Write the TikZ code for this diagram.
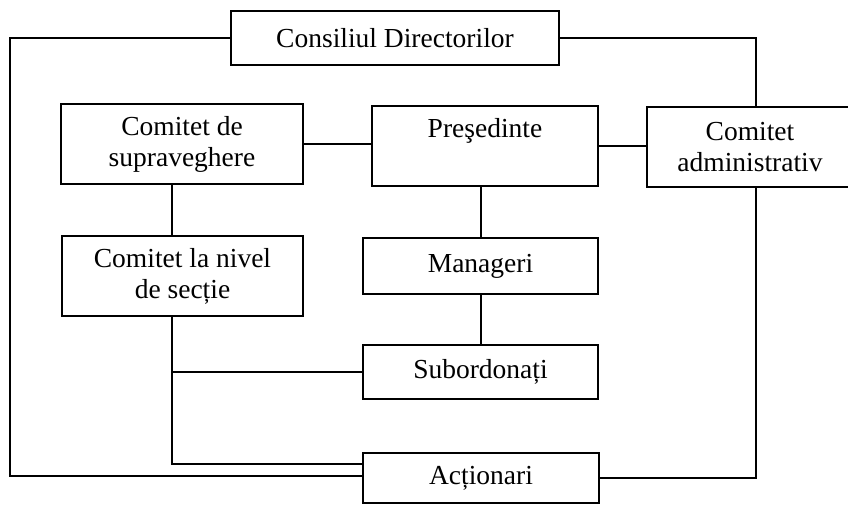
\documentclass[tikz,border=0pt]{standalone}
\usepackage{fontspec}
\setmainfont{Liberation Serif}
\begin{document}
\begin{tikzpicture}[x=1pt,y=-1pt,
  box/.style={draw, line width=1.5pt, inner sep=0pt, align=center,
    font=\fontsize{27.5}{31}\selectfont},
  conn/.style={line width=1.5pt}]
\useasboundingbox (0,0) rectangle (848,504);
\fill[white] (0,0) rectangle (848,504);
\begin{scope}
\clip (0,0) rectangle (848,504);
\node[box, minimum width=328pt, minimum height=54pt] (cd) at (395,38) {Consiliul Directorilor};
\node[box, minimum width=242pt, minimum height=80pt] (cs) at (182,144) {Comitet de\\supraveghere};
\node[box, minimum width=226pt, minimum height=80pt] (pr) at (485,146) {Preşedinte\\\phantom{p}};
\node[box, minimum width=206pt, minimum height=80pt] (ca) at (750,147) {Comitet\\administrativ};
\node[box, minimum width=241pt, minimum height=80pt] (cn) at (182.5,276) {Comitet la nivel\\de secție};
\node[box, minimum width=235pt, minimum height=56pt] (mg) at (480.5,266) {Manageri};
\node[box, minimum width=235pt, minimum height=54pt] (sb) at (480.5,372) {Subordonați};
\node[box, minimum width=236pt, minimum height=50pt] (ac) at (481,478) {Acționari};

\coordinate (V) at (172,0);
\coordinate (M) at (481,0);
\coordinate (R) at (756,0);
\coordinate (L) at (10,476);
\coordinate (B) at (172,464);

\draw[conn] (cd.west) -| (L) -- (L -| ac.west);
\draw[conn] (cd.east) -| (ca.north -| R);
\draw[conn] (ac.east) -| (ca.south -| R);
\draw[conn] (cs.east) -- (cs.east -| pr.west);
\draw[conn] (pr.east) -- (pr.east -| ca.west);
\draw[conn] (cs.south -| V) -- (cn.north -| V);
\draw[conn] (pr.south -| M) -- (mg.north -| M);
\draw[conn] (mg.south -| M) -- (sb.north -| M);
\draw[conn] (cn.south -| V) -- (B) -- (B -| ac.west);
\draw[conn] (sb.west -| V) -- (sb.west);
\end{scope}
\end{tikzpicture}
\end{document}
